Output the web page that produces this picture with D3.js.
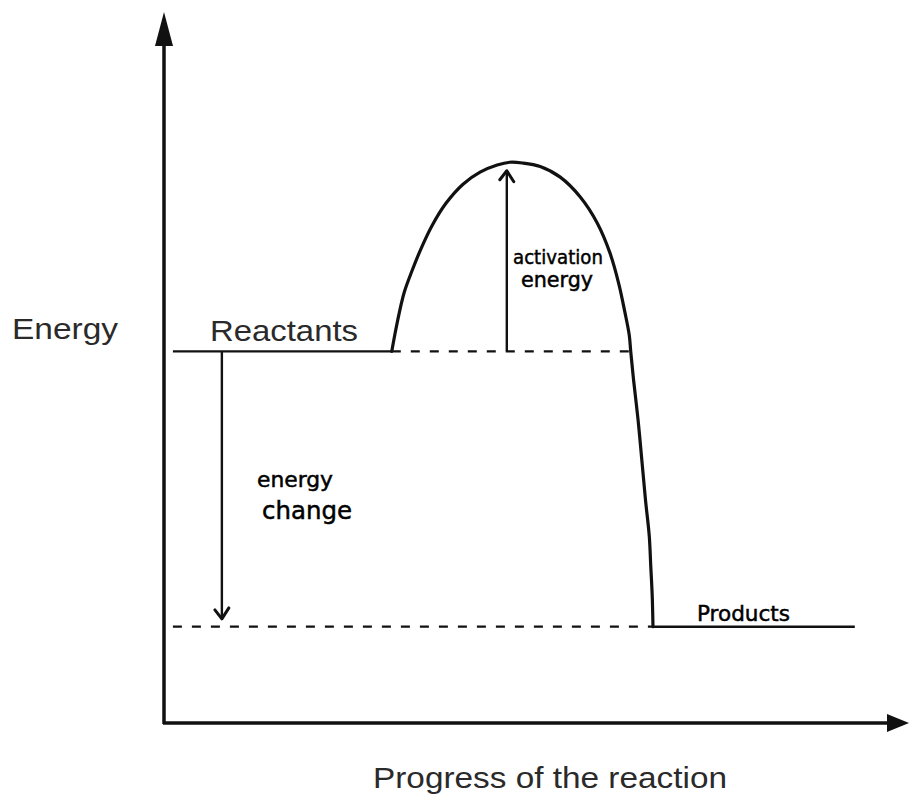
<!DOCTYPE html>
<html><head><meta charset="utf-8">
<script src="https://cdn.jsdelivr.net/npm/d3@7"></script>
<style>html,body{margin:0;padding:0;background:#fff;}svg{display:block;}</style>
</head><body>
<script>
// Energy profile data (progress 0-100, energy 0-100)
const curveProgress = [30.7,31.1,31.7,32.4,33.4,34.6,36.1,38.0,40.3,42.6,44.9,46.6,48.3,50.7,53.4,56.1,58.4,60.1,61.3,62.1,62.7,62.9,63.3,63.9,64.4,64.9,65.4,65.6,65.8,65.9];
const curveEnergy   = [52.5,54.8,57.9,60.9,63.8,66.9,70.2,73.4,76.1,77.8,78.8,79.2,79.1,78.6,77.1,74.3,70.6,66.4,62.0,58.1,54.8,52.5,48.3,42.7,37.1,31.4,26.4,22.2,17.9,13.6];
const levelNames    = ["Reactants", "Products"];
const levelEnergy   = [52.5, 13.6];
const levelStart    = [1.2, 65.9];
const levelEnd      = [30.7, 93.1];
const dashedStart   = [30.7, 1.2];
const dashedEnd     = [62.9, 65.9];
const arrowNames    = ["activation energy", "energy change"];
const arrowX        = [46.2, 7.8];
const arrowFrom     = [52.5, 52.5];
const arrowTo       = [78.0, 14.7];
const axisLabels    = ["Energy", "Progress of the reaction"];

const W = 909, H = 803;
const x = d3.scaleLinear().domain([0, 100]).range([164, 906]);
const y = d3.scaleLinear().domain([0, 100]).range([723, 15]);

const svg = d3.select("body").append("svg").attr("width", W).attr("height", H);
const ink = "#111";

// axes
svg.append("line").attr("x1", x(0)).attr("x2", x(0)).attr("y1", y(0) + 1).attr("y2", y(100) + 25)
  .attr("stroke", ink).attr("stroke-width", 3.5);
svg.append("line").attr("x1", x(0) - 1).attr("x2", x(100) - 15).attr("y1", y(0)).attr("y2", y(0))
  .attr("stroke", ink).attr("stroke-width", 3.5);
// arrowheads
svg.append("path").attr("fill", ink)
  .attr("d", `M${x(0)},${y(100) - 3} L${x(0) - 9},${y(100) + 31} L${x(0) + 9},${y(100) + 31} Z`);
svg.append("path").attr("fill", ink)
  .attr("d", `M${x(100) + 3},${y(0)} L${x(100) - 19},${y(0) - 9} L${x(100) - 19},${y(0) + 9} Z`);

// axis labels
svg.append("text").text(axisLabels[0]).attr("x", 12).attr("y", 339)
  .attr("font-family", "Liberation Sans, Arial, sans-serif").attr("font-size", 29).attr("fill", "#2a2a2a")
  .attr("textLength", 106).attr("lengthAdjust", "spacingAndGlyphs");
svg.append("text").text(axisLabels[1]).attr("x", 373).attr("y", 788)
  .attr("font-family", "Liberation Sans, Arial, sans-serif").attr("font-size", 29).attr("fill", "#2a2a2a")
  .attr("textLength", 354).attr("lengthAdjust", "spacingAndGlyphs");

// energy levels (solid)
levelNames.forEach((n, i) => {
  svg.append("line").attr("x1", x(levelStart[i])).attr("x2", x(levelEnd[i]))
    .attr("y1", y(levelEnergy[i])).attr("y2", y(levelEnergy[i]))
    .attr("stroke", ink).attr("stroke-width", i === 0 ? 2.2 : 2.6);
});
// dashed guides
dashedStart.forEach((s, i) => {
  svg.append("line").attr("x1", x(s)).attr("x2", x(dashedEnd[i]))
    .attr("y1", y(levelEnergy[i])).attr("y2", y(levelEnergy[i]))
    .attr("stroke", ink).attr("stroke-width", 2.2).attr("stroke-dasharray", "9,10");
});

// curve
const pts = curveProgress.map((p, i) => [p, curveEnergy[i]]);
svg.append("path").datum(pts)
  .attr("d", d3.line().x(d => x(d[0])).y(d => y(d[1])).curve(d3.curveCatmullRom.alpha(0.5)))
  .attr("fill", "none").attr("stroke", ink).attr("stroke-width", 3.2).attr("stroke-linecap", "round");

// arrows
arrowX.forEach((ax, i) => {
  const px = x(ax), y0 = y(arrowFrom[i]), y1 = y(arrowTo[i]);
  svg.append("line").attr("x1", px).attr("x2", px).attr("y1", y0).attr("y2", y1)
    .attr("stroke", ink).attr("stroke-width", 2.4);
  const dir = y1 < y0 ? 1 : -1;
  svg.append("path")
    .attr("d", `M${px - 7},${y1 + dir * 9} L${px},${y1} L${px + 7},${y1 + dir * 11}`)
    .attr("fill", "none").attr("stroke", ink).attr("stroke-width", 3).attr("stroke-linecap", "round").attr("stroke-linejoin", "round");
});

// level label: Reactants (printed)
svg.append("text").text(levelNames[0]).attr("x", 210).attr("y", 341)
  .attr("font-family", "Liberation Sans, Arial, sans-serif").attr("font-size", 29).attr("fill", "#2a2a2a")
  .attr("textLength", 148).attr("lengthAdjust", "spacingAndGlyphs");

// handwritten-style labels
const hand = "DejaVu Sans, sans-serif";
function handText(t, px, py, len, size) {
  svg.append("text").text(t).attr("x", px).attr("y", py)
    .attr("font-family", hand).attr("font-size", size).attr("fill", "#000")
    .attr("stroke", "#000").attr("stroke-width", 0.5)
    .attr("textLength", len).attr("lengthAdjust", "spacingAndGlyphs");
}
handText(levelNames[1], 697, 621, 93, 22);
const [act, en] = arrowNames[0].split(" ");
handText(act, 513, 264, 90, 20);
handText(en, 521, 287, 72, 21);
const [en2, ch] = arrowNames[1].split(" ");
handText(en2, 257, 487, 76, 22);
handText(ch, 262, 519, 90, 24);
</script>
</body></html>
